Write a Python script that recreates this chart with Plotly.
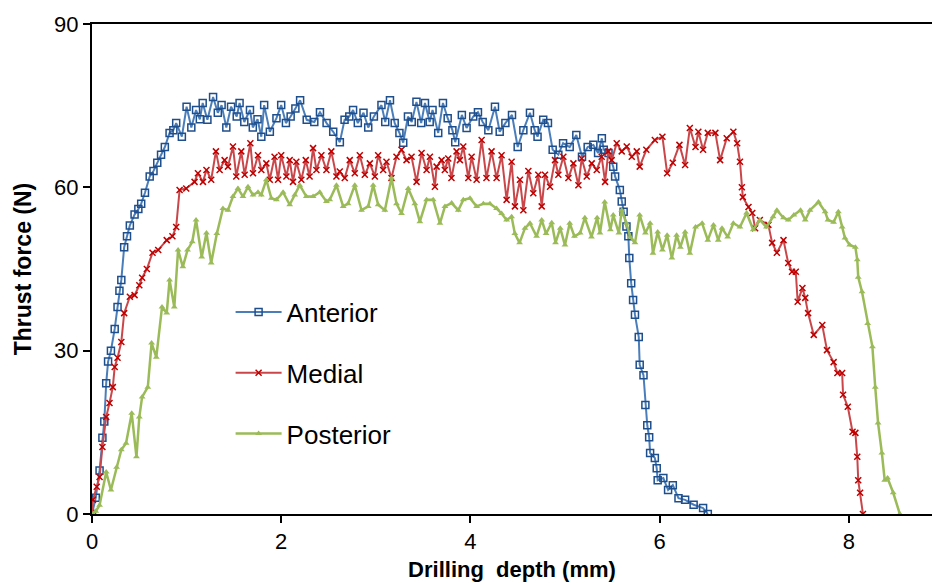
import plotly.graph_objects as go

# ---------------- data ----------------
anterior_x = [0.00, 0.04, 0.08, 0.11, 0.13, 0.15, 0.17, 0.20, 0.24, 0.27, 0.29, 0.31, 0.34, 0.37, 0.40,
              0.45, 0.49, 0.52, 0.56, 0.61, 0.65, 0.69, 0.73, 0.77, 0.82, 0.86, 0.89, 0.95, 1.00, 1.05,
              1.10, 1.14, 1.17, 1.22, 1.28, 1.33, 1.37, 1.42, 1.47, 1.53, 1.56, 1.61, 1.67, 1.70, 1.75,
              1.79, 1.82, 1.88, 1.95, 2.00, 2.05, 2.10, 2.15, 2.20, 2.27, 2.35, 2.41, 2.48, 2.55, 2.62,
              2.67, 2.72, 2.76, 2.81, 2.87, 2.92, 2.98, 3.06, 3.10, 3.15, 3.20, 3.25, 3.29, 3.34, 3.38,
              3.43, 3.48, 3.52, 3.57, 3.60, 3.66, 3.71, 3.76, 3.81, 3.84, 3.91, 3.96, 4.03, 4.08, 4.13,
              4.19, 4.26, 4.31, 4.37, 4.44, 4.50, 4.56, 4.63, 4.68, 4.71, 4.77, 4.82, 4.87, 4.93, 4.98,
              5.05, 5.12, 5.18, 5.24, 5.30, 5.35, 5.39, 5.41, 5.46, 5.51, 5.53, 5.58, 5.60, 5.62, 5.65,
              5.67, 5.68, 5.70, 5.72, 5.74, 5.78, 5.79, 5.83, 5.85, 5.87, 5.89, 5.90, 5.95, 5.97, 5.98,
              6.04, 6.09, 6.14, 6.20, 6.27, 6.36, 6.46, 6.51]
anterior_y = [0.0, 3.0, 8.0, 14.0, 17.0, 24.0, 28.0, 30.0, 34.0, 38.0, 41.0, 43.0, 49.0, 51.0, 53.0,
              55.0, 56.0, 57.0, 59.0, 62.0, 63.0, 64.5, 66.0, 67.4, 70.0, 70.5, 71.8, 69.3, 74.8, 71.0,
              74.2, 72.5, 75.5, 72.4, 76.6, 73.7, 75.1, 71.0, 74.8, 73.0, 75.5, 72.0, 74.2, 71.0, 72.5,
              69.3, 75.1, 70.2, 72.7, 75.1, 71.8, 73.0, 74.5, 76.0, 72.4, 72.0, 73.8, 71.8, 70.2, 68.3,
              72.4, 73.0, 74.2, 71.8, 73.7, 71.0, 73.0, 75.1, 72.0, 76.0, 71.8, 70.0, 68.2, 73.0, 72.0,
              75.7, 71.8, 75.5, 72.0, 74.2, 70.0, 75.5, 72.7, 70.5, 68.3, 73.3, 70.9, 73.0, 73.8, 72.0,
              70.5, 74.8, 70.2, 71.8, 73.3, 67.4, 70.5, 73.7, 70.5, 69.3, 72.4, 71.8, 66.9, 66.0, 68.1,
              67.4, 69.6, 65.6, 67.4, 67.8, 66.3, 69.0, 66.9, 66.3, 63.8, 62.0, 59.5, 57.4, 55.5, 52.8,
              51.0, 47.0, 42.4, 39.3, 36.6, 32.5, 27.4, 25.5, 20.0, 16.3, 14.1, 11.2, 10.3, 8.4, 6.2,
              6.6, 4.4, 5.3, 2.9, 2.6, 1.7, 1.1, 0.0]

medial_x = [0.00, 0.01, 0.05, 0.08, 0.11, 0.15, 0.185, 0.22, 0.24, 0.27, 0.31, 0.34, 0.40, 0.45, 0.50,
            0.53, 0.58, 0.64, 0.70, 0.79, 0.85, 0.89, 0.926, 0.996, 1.084, 1.12, 1.173, 1.21, 1.26, 1.31,
            1.349, 1.402, 1.437, 1.49, 1.525, 1.578, 1.614, 1.674, 1.702, 1.755, 1.79, 1.843, 1.879, 1.93,
            1.967, 2.00, 2.055, 2.09, 2.125, 2.16, 2.213, 2.26, 2.30, 2.337, 2.372, 2.425, 2.478, 2.53,
            2.584, 2.619, 2.672, 2.725, 2.778, 2.831, 2.884, 2.937, 2.99, 3.025, 3.078, 3.113, 3.166,
            3.219, 3.272, 3.325, 3.378, 3.431, 3.484, 3.537, 3.572, 3.625, 3.643, 3.696, 3.73, 3.766,
            3.80, 3.854, 3.889, 3.925, 3.978, 4.013, 4.066, 4.119, 4.17, 4.224, 4.277, 4.33, 4.383,
            4.436, 4.471, 4.524, 4.56, 4.613, 4.665, 4.718, 4.754, 4.789, 4.842, 4.895, 4.93, 4.983,
            5.036, 5.089, 5.142, 5.177, 5.23, 5.283, 5.336, 5.388, 5.424, 5.459, 5.494, 5.547, 5.60,
            5.653, 5.706, 5.759, 5.79, 5.86, 5.95, 6.03, 6.08, 6.14, 6.21, 6.27, 6.32, 6.38, 6.41,
            6.46, 6.51, 6.59, 6.64, 6.71, 6.78, 6.82, 6.85, 6.87, 6.88, 6.94, 6.98, 7.01, 7.06, 7.15,
            7.19, 7.24, 7.31, 7.36, 7.40, 7.44, 7.46, 7.51, 7.54, 7.57, 7.63, 7.72, 7.77, 7.84, 7.88,
            7.93, 7.94, 7.99, 8.04, 8.07, 8.09, 8.10, 8.12, 8.15]
medial_y = [0.0, 2.6, 5.0, 6.8, 12.3, 17.8, 20.4, 23.3, 27.0, 28.7, 31.6, 36.9, 39.9, 40.2, 42.0,
            43.4, 45.0, 48.0, 48.5, 50.3, 51.0, 52.7, 59.5, 59.8, 61.0, 62.6, 61.0, 63.2, 61.4, 66.6,
            63.2, 65.0, 63.8, 67.5, 62.0, 66.6, 62.3, 68.1, 62.6, 65.9, 63.2, 64.4, 61.4, 65.6,
            61.4, 65.9, 62.0, 65.0, 61.0, 64.7, 61.4, 65.0, 62.0, 67.2, 63.2, 65.9, 63.2, 66.6,
            62.0, 62.9, 61.7, 65.0, 62.6, 65.9, 62.3, 64.4, 62.0, 65.9, 63.2, 64.7, 61.7,
            65.6, 66.9, 65.0, 65.6, 61.0, 66.3, 63.2, 65.6, 60.1, 63.8, 65.0, 63.2, 65.3,
            61.7, 66.6, 65.0, 67.5, 61.7, 65.6, 61.4, 68.7, 61.7, 66.6, 61.7, 65.9, 57.7,
            64.7, 56.5, 61.4, 55.8, 63.0, 58.9, 62.3, 56.5, 62.3, 60.1, 65.0, 62.3, 65.6,
            61.7, 64.4, 60.4, 65.3, 62.0, 64.4, 63.2, 65.6, 61.0, 66.6, 65.0, 68.1, 66.6,
            67.5, 65.6, 66.6, 63.8, 66.9, 68.7, 69.3, 62.6, 64.5, 67.8, 64.1, 70.9, 67.4, 70.2,
            66.9, 70.0, 70.0, 65.0, 69.0, 70.2, 68.1, 64.7, 60.0, 58.2, 56.4, 55.3, 52.5, 54.0, 53.1,
            49.8, 48.0, 50.3, 46.1, 44.5, 44.5, 39.0, 41.5, 39.7, 36.9, 32.9, 34.7, 30.1, 27.9, 25.9,
            25.9, 21.9, 19.7, 15.1, 14.9, 10.5, 6.2, 3.9, 0.0]

posterior_x = [0.00, 0.04, 0.08, 0.15, 0.20, 0.26, 0.31, 0.36, 0.42, 0.47, 0.50, 0.53, 0.59, 0.63, 0.68,
               0.74, 0.79, 0.82, 0.87, 0.91, 0.96, 1.01, 1.06, 1.10, 1.16, 1.21, 1.26, 1.32, 1.384, 1.437,
               1.49, 1.543, 1.596, 1.649, 1.702, 1.755, 1.79, 1.843, 1.896, 1.949, 2.02, 2.09, 2.143,
               2.196, 2.266, 2.337, 2.408, 2.478, 2.513, 2.584, 2.655, 2.707, 2.778, 2.849, 2.92, 2.972,
               3.025, 3.096, 3.166, 3.219, 3.272, 3.343, 3.413, 3.466, 3.537, 3.607, 3.678, 3.731, 3.802,
               3.872, 3.925, 3.996, 4.066, 4.137, 4.207, 4.277, 4.33, 4.383, 4.436, 4.47, 4.52, 4.577,
               4.63, 4.70, 4.754, 4.80, 4.86, 4.90, 4.95, 5.00, 5.05, 5.10, 5.16, 5.21, 5.28, 5.34, 5.37,
               5.42, 5.48, 5.51, 5.57, 5.60, 5.65, 5.69, 5.74, 5.79, 5.85, 5.90, 5.93, 5.98, 6.03, 6.08,
               6.13, 6.18, 6.22, 6.27, 6.32, 6.38, 6.45, 6.51, 6.57, 6.62, 6.66, 6.72, 6.78, 6.85, 6.92,
               6.99, 7.06, 7.13, 7.20, 7.24, 7.31, 7.36, 7.42, 7.49, 7.54, 7.59, 7.68, 7.75, 7.78, 7.84,
               7.89, 7.93, 7.96, 8.01, 8.07, 8.09, 8.10, 8.14, 8.20, 8.25, 8.28, 8.31, 8.35, 8.38, 8.41,
               8.47, 8.54]
posterior_y = [0.0, 0.5, 1.6, 7.7, 4.4, 8.6, 11.8, 13.0, 18.5, 10.5, 17.8, 21.5, 23.3, 31.4, 28.8,
               38.0, 36.9, 43.0, 38.0, 48.5, 45.4, 48.5, 50.0, 54.0, 47.2, 51.6, 46.1, 51.5, 56.1, 55.8,
               58.3, 59.8, 58.3, 60.1, 58.6, 59.1, 58.6, 61.4, 58.0, 57.7, 59.1, 56.8, 58.6,
               60.4, 58.3, 58.3, 59.1, 57.4, 57.7, 60.4, 56.5, 57.0, 60.4, 55.8, 56.5, 60.4,
               56.8, 55.8, 61.7, 57.0, 55.2, 59.8, 57.0, 53.7, 57.7, 57.7, 53.4, 56.5, 57.1,
               55.8, 57.7, 58.0, 56.5, 57.0, 57.0, 56.1, 55.2, 54.0, 54.6, 51.5, 49.8, 52.5,
               53.4, 51.0, 54.0, 51.5, 53.5, 49.8, 52.5, 49.4, 53.4, 51.0, 51.6, 54.4, 50.9, 54.4, 51.6,
               57.3, 52.2, 54.9, 51.6, 55.8, 53.4, 50.9, 49.8, 54.9, 51.6, 53.4, 47.9, 51.8, 48.5, 51.2,
               47.0, 51.2, 49.0, 51.8, 47.9, 52.7, 53.4, 50.3, 53.1, 50.3, 52.5, 50.9, 53.4, 52.7, 55.3,
               52.2, 54.0, 52.7, 54.6, 55.8, 54.4, 54.0, 54.9, 55.8, 54.0, 55.8, 57.3, 55.5, 54.0, 53.6,
               55.5, 52.7, 50.7, 49.4, 49.0, 46.7, 43.5, 40.8, 35.0, 30.7, 23.3, 16.7, 11.2, 6.2, 6.6,
               3.9, 0.0]

y_ticks = [0, 30, 60, 90]
x_ticks = [0, 2, 4, 6, 8]

FONT = "Liberation Sans, Arial, sans-serif"

fig = go.Figure()
fig.add_trace(go.Scatter(
    x=anterior_x, y=anterior_y, name="Anterior", mode="lines+markers", legendgroup="a",
    line=dict(color="#4a7ebb", width=2),
    marker=dict(symbol="square-open", size=7, color="#1f4e8c", line=dict(width=1.5, color="#1f4e8c")),
))
fig.add_trace(go.Scatter(
    x=medial_x, y=medial_y, name="Medial", mode="lines+markers", legendgroup="m",
    line=dict(color="#c9474a", width=2),
    marker=dict(symbol="x-thin-open", size=6, color="#c00000", line=dict(width=1.5, color="#c00000")),
))
fig.add_trace(go.Scatter(
    x=posterior_x, y=posterior_y, name="Posterior", mode="lines+markers", legendgroup="p",
    line=dict(color="#9bbb59", width=2.5),
    marker=dict(symbol="triangle-up", size=6, color="#9bbb59"),
))

fig.update_layout(
    width=932, height=583,
    margin=dict(l=92, r=0, t=24, b=69),
    paper_bgcolor="white", plot_bgcolor="white",
    font=dict(family=FONT, size=22, color="#000000"),
    showlegend=True,
    legend=dict(
        x=0.165, y=0.46, xanchor="left", yanchor="top",
        font=dict(size=26, family=FONT, color="#000000"),
        bgcolor="rgba(0,0,0,0)", tracegroupgap=24, itemwidth=46,
    ),
    xaxis=dict(
        range=[0, 8.88], tickvals=x_ticks, ticks="outside", ticklen=7, tickwidth=2,
        tickcolor="#000", showline=True, linecolor="#000", linewidth=2, mirror=True,
        showgrid=False, zeroline=False,
        tickfont=dict(size=22, family=FONT),
        title=dict(text="<b>Drilling  depth (mm)</b>", font=dict(size=22, family=FONT), standoff=8),
    ),
    yaxis=dict(
        range=[0, 90], tickvals=y_ticks, ticks="outside", ticklen=7, tickwidth=2,
        tickcolor="#000", showline=True, linecolor="#000", linewidth=2,
        showgrid=False, zeroline=False,
        tickfont=dict(size=22, family=FONT),
        title=dict(text="<b>Thrust force (N)</b>", font=dict(size=23, family=FONT), standoff=16),
    ),
)

fig.write_html("out.html")
